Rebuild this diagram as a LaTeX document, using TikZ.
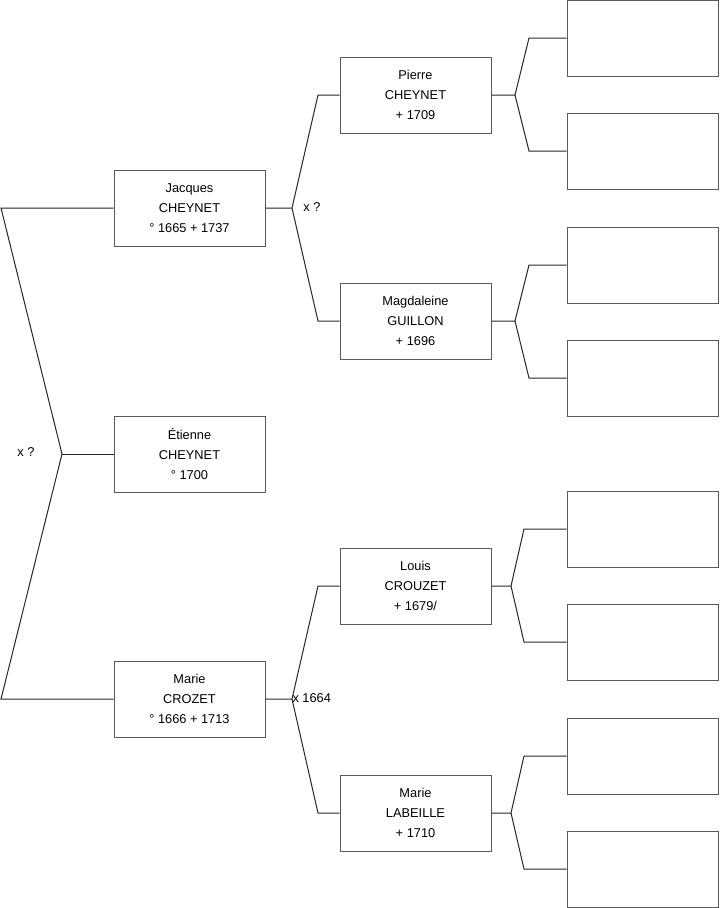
\documentclass[tikz,border=0pt]{standalone}
\usepackage{fontspec}
\setmainfont{Liberation Sans}
\begin{document}
\begin{tikzpicture}[x=0.75pt, y=-0.75pt, line width=0.75pt,
    every node/.style={font=\fontsize{9.6}{15}\selectfont},
    personbox/.style={draw=black!65, fill=white, minimum width=113.25pt, minimum height=57pt, align=center, inner sep=0pt},
    link/.style={draw=black!85}]
    \useasboundingbox (0,0) rectangle (719,908);

    % generation 1 and 2
    \node[personbox] (jacques) at (189.5,208) {Jacques\\CHEYNET\\° 1665 + 1737};
    \node[personbox] (etienne) at (189.5,454) {Étienne\\CHEYNET\\° 1700};
    \node[personbox] (marie) at (189.5,699) {Marie\\CROZET\\° 1666 + 1713};

    % generation 3
    \node[personbox] (pierre) at (415.5,95) {Pierre\\CHEYNET\\+ 1709};
    \node[personbox] (magdaleine) at (415.5,321) {Magdaleine\\GUILLON\\+ 1696};
    \node[personbox] (louis) at (415.5,586) {Louis\\CROUZET\\+ 1679/};
    \node[personbox] (labeille) at (415.5,813) {Marie\\LABEILLE\\+ 1710};

    % generation 4 (empty)
    \foreach \i/\y in {1/38, 2/151, 3/265, 4/378, 5/529, 6/642, 7/756, 8/869}
        \node[personbox] (e\i) at (642.5,\y) {};

    % fork points
    \coordinate (lt) at (1,208);
    \coordinate (lv) at (62,454);
    \coordinate (lb) at (1,699);
    \coordinate (jv) at (292,208);
    \coordinate (jt) at (318,95);
    \coordinate (jb) at (318,321);
    \coordinate (mv) at (292,699);
    \coordinate (mt) at (318,586);
    \coordinate (mb) at (318,813);
    \coordinate (pv) at (515,95);
    \coordinate (pt) at (529,38);
    \coordinate (pb) at (529,151);
    \coordinate (gv) at (515,321);
    \coordinate (gt) at (529,265);
    \coordinate (gb) at (529,378);
    \coordinate (ov) at (511,586);
    \coordinate (ot) at (524,529);
    \coordinate (ob) at (524,642);
    \coordinate (av) at (511,813);
    \coordinate (at) at (524,756);
    \coordinate (ab) at (524,869);

    \draw[link] (jacques.west) -- (lt) -- (lv) -- (lb) -- (marie.west);
    \draw[link] (lv) -- (etienne.west);
    \draw[link] (jacques.east) -- (jv) -- (jt) -- (pierre.west);
    \draw[link] (jv) -- (jb) -- (magdaleine.west);
    \draw[link] (marie.east) -- (mv) -- (mt) -- (louis.west);
    \draw[link] (mv) -- (mb) -- (labeille.west);
    \draw[link] (pierre.east) -- (pv) -- (pt) -- (e1.west);
    \draw[link] (pv) -- (pb) -- (e2.west);
    \draw[link] (magdaleine.east) -- (gv) -- (gt) -- (e3.west);
    \draw[link] (gv) -- (gb) -- (e4.west);
    \draw[link] (louis.east) -- (ov) -- (ot) -- (e5.west);
    \draw[link] (ov) -- (ob) -- (e6.west);
    \draw[link] (labeille.east) -- (av) -- (at) -- (e7.west);
    \draw[link] (av) -- (ab) -- (e8.west);

    % marriage labels
    \node (m1) at (26,452) {x ?};
    \node (m2) at (312,207) {x ?};
    \node[anchor=west, inner sep=0pt] (m3) at (292,698) {x 1664};
\end{tikzpicture}
\end{document}
